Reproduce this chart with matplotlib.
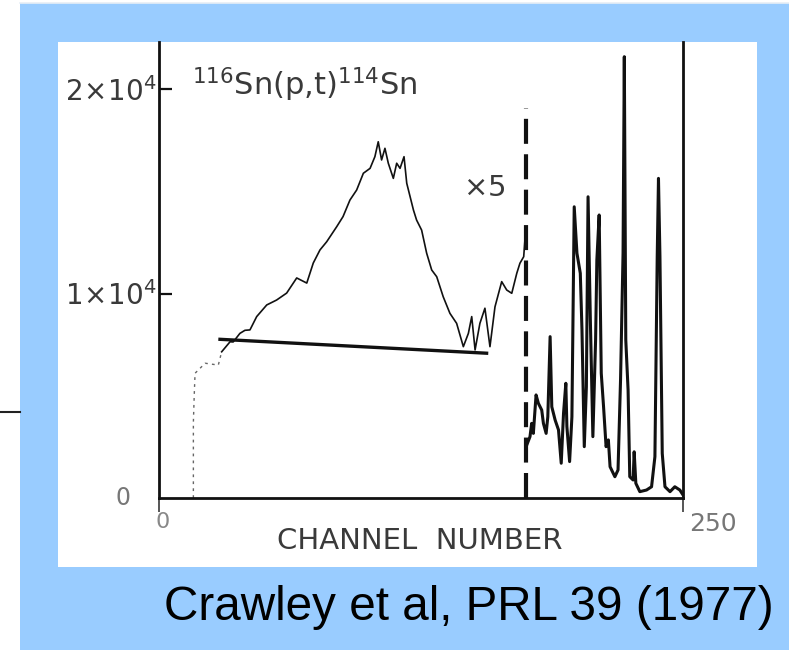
import matplotlib
matplotlib.use("Agg")
import matplotlib.pyplot as plt
from matplotlib.patches import Rectangle
from matplotlib.lines import Line2D

# ---------------- data ----------------
# low-channel rise (faint, dotted in the scan), counts shown x5
rise_channels = [16.4, 16.4, 16.8, 17.2, 22.0, 28.3, 29.9]
rise_counts = [0, 3700, 5000, 6100, 6590, 6500, 7150]

# broad hump region (left of dashed line), counts shown x5
left_channels = [29.9, 33.9, 35.4, 38.6, 41.0, 43.4, 46.6, 51.4, 56.1, 60.9,
                 65.7, 70.5, 73.6, 76.8, 80.0, 84.8, 87.8, 91.1, 94.3, 97.5,
                 100.7, 103.0, 104.6, 106.2, 107.8, 109.4, 111.8, 113.4, 115.0,
                 116.9, 118.2, 121.4, 122.9, 125.3, 127.7, 130.1, 132.5, 135.6,
                 138.8, 142.0, 145.2, 147.6, 149.2, 150.8, 153.1, 155.5, 157.9,
                 160.3, 163.5, 165.9, 168.3, 170.7, 172.2, 174.0, 175.0]
left_counts = [7150, 7640, 7630, 8050, 8200, 8220, 8870, 9440, 9680, 10020,
               10760, 10510, 11490, 12130, 12530, 13270, 13760, 14570, 15060, 15880,
               16120, 16690, 17420, 16530, 17100, 16370, 15630, 16370, 16120,
               16690, 15390, 14080, 13590, 13100, 11970, 11150, 10820, 9840,
               9030, 8540, 7400, 8050, 8870, 7240, 8540, 9280, 7400,
               9350, 10580, 10170, 10010, 10990, 11480, 11800, 13200]

# discrete-state region (right of dashed line), true counts
right_channels = [175.5, 177.0, 177.8, 178.6, 179.9, 181.0, 182.6, 183.4, 184.7,
                  185.5, 186.6, 187.4, 189.0, 190.6, 191.9, 193.0, 194.1, 194.6,
                  195.9, 197.0, 198.1, 199.4, 201.0, 201.8, 202.9, 203.9, 204.7,
                  205.8, 207.0, 208.3, 208.9, 210.0, 211.0, 212.1, 213.3, 214.4,
                  215.2, 217.5, 219.0, 220.2, 221.4, 222.0, 222.7, 223.8, 224.6,
                  226.2, 226.7, 227.5, 229.4, 232.6, 235.0, 236.6, 237.7, 238.3,
                  239.0, 240.1, 241.4, 243.8, 246.1, 248.5, 250.0]
right_counts = [2600, 3000, 3650, 3160, 5040, 4630, 4300, 3650, 3160,
                3970, 7890, 4460, 3810, 3330, 1700, 4140, 5610, 3500,
                1780, 3970, 14240, 11970, 10990, 8220, 2510, 5440, 14730,
                8700, 3000, 7730, 11640, 13840, 6100, 4460, 2510, 2840,
                1530, 1040, 1370, 5770, 11970, 21580, 7730, 5280, 1040,
                880, 2260, 720, 310, 390, 550, 2020, 11800, 15630,
                11800, 2180, 550, 310, 550, 390, 150]

# straight background line under the broad hump
bg_channels = [29.1, 156.3]
bg_counts = [7760, 7080]

divider_channel = 175
divider_top = 19070

ytick_vals = [0, 10000, 20000]
ytick_labels = ["0", r"$1\!\times\!10^{4}$", r"$2\!\times\!10^{4}$"]
xtick_vals = [0, 250]
xtick_labels = ["0", "250"]

W, H = 789, 650
BLUE = "#99CCFF"
INK = "#111111"
TXT = "#3a3a3a"

fig = plt.figure(figsize=(W / 100, H / 100), dpi=100)
fig.patch.set_facecolor("white")

def fx(x):
    return x / W

def fy(y):
    return 1 - y / H

# blue slide background and white scanned panel
fig.add_artist(Rectangle((fx(20), 0), fx(789) - fx(20), fy(3), transform=fig.transFigure,
                         facecolor=BLUE, edgecolor="none", zorder=-3))
fig.add_artist(Rectangle((fx(58), fy(567)), fx(757) - fx(58), fy(42) - fy(567),
                         transform=fig.transFigure, facecolor="white", edgecolor="none", zorder=-2))
fig.add_artist(Line2D([0, fx(20)], [fy(412), fy(412)], transform=fig.transFigure,
                      color="#222222", lw=1.5, zorder=-1))
fig.add_artist(Line2D([fx(20), 1], [fy(2.5), fy(2.5)], transform=fig.transFigure,
                      color="#e8eef5", lw=1.2, zorder=-1))

# axes
ax = fig.add_axes([fx(159), fy(498), fx(683) - fx(159), fy(42) - fy(498)])
ax.set_zorder(1)
ax.set_facecolor("none")
ax.set_xlim(0, 250)
ax.set_ylim(0, (498 - 42) / 204.5 * 10000)
for s in ("left", "bottom", "right"):
    ax.spines[s].set_linewidth(2.0)
    ax.spines[s].set_color(INK)
ax.spines["top"].set_visible(False)

ax.set_yticks(ytick_vals[1:])
ax.set_yticklabels(ytick_labels[1:], fontsize=20, color=TXT)
ax.tick_params(axis="y", direction="in", length=9, width=1.6, pad=2, color=INK)
ax.set_xticks(xtick_vals)
ax.set_xticklabels([])
ax.tick_params(axis="x", direction="out", length=10, width=1.4, color="#555555")

ax.text(-0.055, 0.0, ytick_labels[0], transform=ax.transAxes, ha="right", va="center",
        fontsize=17, color="#777777")
ax.text(fx(163), fy(522), xtick_labels[0], transform=fig.transFigure, ha="center", va="center",
        fontsize=16, color="#888888")
ax.text(fx(713), fy(524), xtick_labels[1], transform=fig.transFigure, ha="center", va="center",
        fontsize=18, color="#777777")
ax.text(fx(420), fy(541), "CHANNEL  NUMBER", transform=fig.transFigure, ha="center", va="center",
        fontsize=21, color=TXT)

# spectrum
ax.plot(rise_channels, rise_counts, color="#666666", lw=1.0, ls=(0, (2, 3)))
ax.plot(left_channels, left_counts, color=INK, lw=1.2)
ax.plot(right_channels, right_counts, color=INK, lw=2.2)
ax.plot(bg_channels, bg_counts, color=INK, lw=2.4)
ax.vlines(divider_channel, 0, divider_top, colors=INK, lw=3, linestyles=(0, (6, 2.5)))

# annotations
fig.text(fx(192), fy(95), r"$^{116}$Sn(p,t)$^{114}$Sn", ha="left", va="baseline",
         fontsize=22, color=TXT)
fig.text(fx(484), fy(188), r"$\times$5", ha="center", va="center", fontsize=21, color=TXT)

fig.text(fx(469), fy(607), "Crawley et al, PRL 39 (1977)", ha="center", va="center",
         fontsize=34.3, family="Liberation Sans", color="black")

fig.savefig("out.png", dpi=100)
